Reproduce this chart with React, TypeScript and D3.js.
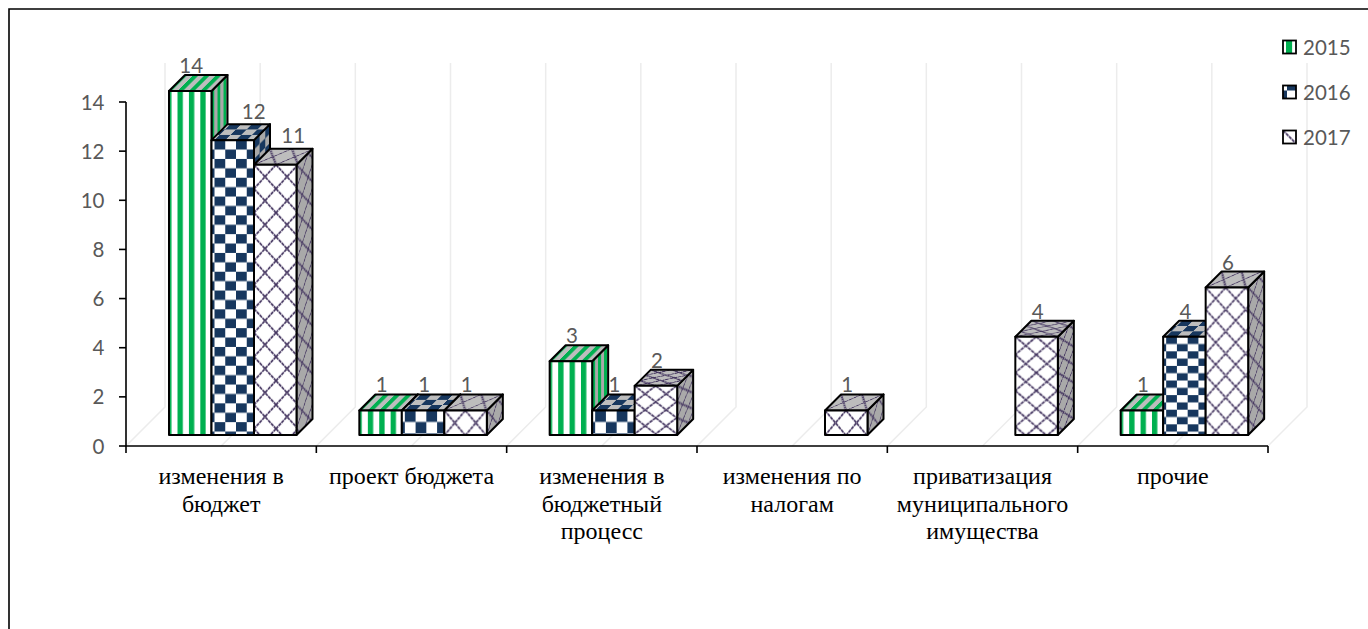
import * as d3 from "d3";

const categories = [
  ["изменения в", "бюджет"],
  ["проект бюджета"],
  ["изменения в", "бюджетный", "процесс"],
  ["изменения по", "налогам"],
  ["приватизация", "муниципального", "имущества"],
  ["прочие"],
];
const years = ["2015", "2016", "2017"];
const values2015 = [14, 1, 3, 0, 0, 1];
const values2016 = [12, 1, 1, 0, 0, 4];
const values2017 = [11, 1, 2, 1, 4, 6];
const yTicks = [0, 2, 4, 6, 8, 10, 12, 14];

const seriesValues = [values2015, values2016, values2017];

const width = 1368;
const height = 629;
const depth = 16;
const depthWall = 39;
const floorGap = 11; // front of the bars sits above the axis line

const GREEN = "#00b050";
const NAVY = "#17375e";
const LATTICE = "#43345f";
const TEXT = "#595959";
const GRID = "#ececec";

const x0 = d3
  .scaleBand()
  .domain(categories.map((_, i) => String(i)))
  .range([126, 1268]);
const x1 = d3.scaleBand().domain(years).range([43, 170.5]);
const y = d3.scaleLinear().domain([0, 14]).range([446, 102]);

// the texture gets stretched by the bar height in the original
const checkRow = { 1: 11.5, 4: 7.3, 12: 9.4 };
const latticeSize = {
  1: [21, 25, 1],
  2: [21, 16, 3],
  4: [21, 18, 3],
  6: [20, 22, 1],
  11: [22, 24, 1],
};
// legend swatch tile: size and where it starts relative to the swatch
const legendTile = [
  { size: 13, dx: 3, dy: 0 },
  { size: 18, dx: 4, dy: -4 },
  { size: 26, dx: 0, dy: 0 },
];

const Tile = ({ kind, w, h, bg, thin }) => {
  if (kind === 0) {
    return (
      <>
        <rect width={w} height={h} fill={bg} />
        <rect x={0} width={w * 0.47} height={h} fill={GREEN} />
      </>
    );
  }
  if (kind === 1) {
    return (
      <>
        <rect width={w} height={h} fill={bg} />
        <rect width={w / 2} height={h / 2} fill={NAVY} />
        <rect x={w / 2} y={h / 2} width={w / 2} height={h / 2} fill={NAVY} />
      </>
    );
  }
  return (
    <>
      <rect width={w} height={h} fill={bg} />
      <path
        d={`M0,0L${w},${h}M${w},0L0,${h}`}
        stroke={LATTICE}
        strokeWidth={thin ?? 1.7}
        strokeDasharray="3.5 0.7"
        fill="none"
      />
    </>
  );
};

const Bar = ({ s, c, value }) => {
  const bw = x1.bandwidth();
  const left = x0(String(c)) + x1(years[s]);
  const right = left + bw;
  const top = y(value) - floorGap;
  const base = y(0) - floorGap;
  const id = `b${s}-${c}`;
  const k = depth / bw;

  let w = 11.4;
  let h = 20;
  let topSpan = 20;
  let phase = 8.5;
  if (s === 1) {
    w = 21.5;
    h = checkRow[value] * 2;
    topSpan = h * 1.5;
    phase = 3;
  }
  if (s === 2) {
    const l = latticeSize[value];
    w = l[0];
    h = l[1];
    topSpan = h * l[2];
    phase = 0;
  }
  const ts = depth / topSpan;

  const facePath = {
    front: `M${left},${top}H${right}V${base}H${left}Z`,
    side: `M${right},${top}L${right + depth},${top - depth}V${base - depth}L${right},${base}Z`,
    top: `M${left},${top}L${left + depth},${top - depth}H${right + depth}L${right},${top}Z`,
  };

  // 12 and 11 in the first group are moved off their bars in the original
  const moved = c === 0 && s > 0;
  const labelX = left + bw / 2 + (moved ? (s === 1 ? 21 : 18) : 1);
  const labelY = top - depth - (moved ? 5.5 : 2);

  return (
    <g>
      <defs>
        <pattern
          id={`${id}-front`}
          patternUnits="userSpaceOnUse"
          width={w}
          height={h}
          patternTransform={`translate(${left + phase},${top})`}
        >
          <Tile kind={s} w={w} h={h} bg="#ffffff" />
        </pattern>
        <pattern
          id={`${id}-side`}
          patternUnits="userSpaceOnUse"
          width={w}
          height={h}
          patternTransform={`matrix(${k * 1.4},${-k * 1.4},0,1,${right},${top})`}
        >
          <Tile kind={s} w={w} h={h} bg="#a9a9a9" />
        </pattern>
        <pattern
          id={`${id}-top`}
          patternUnits="userSpaceOnUse"
          width={w}
          height={h}
          patternTransform={`matrix(1,0,${ts},${-ts},${left + phase},${top})`}
        >
          <Tile kind={s} w={w} h={h} bg="#bdbdbd" thin={value === 2 || value === 4 ? 2.6 : 1.5} />
        </pattern>
      </defs>
      {["side", "top", "front"].map((f) => (
        <path
          key={f}
          d={facePath[f]}
          fill={`url(#${id}-${f})`}
          stroke="#000"
          strokeWidth={2}
          strokeLinejoin="round"
        />
      ))}
      <text
        x={labelX}
        y={labelY}
        textAnchor="middle"
        fontFamily="Lato"
        fontSize={20.5}
        fill={TEXT}
      >
        {value}
      </text>
    </g>
  );
};

export default function App() {
  const halfBands = d3.range(0, categories.length * 2 + 1).map((i) => 126 + (i * x0.bandwidth()) / 2);
  const legendY = d3.scalePoint().domain(years).range([47, 137]);

  return (
    <svg
      width={width}
      height={height}
      viewBox={`0 0 ${width} ${height}`}
      style={{ position: "absolute", left: 0, top: 0, display: "block", background: "#fff" }}
    >
      <path d={`M9,${height}V9H${width}`} fill="none" stroke="#000" strokeWidth={1.6} />

      {/* walls of the 3d box */}
      {halfBands.map((x) => (
        <path
          key={x}
          d={`M${x},${y(0)}L${x + depthWall},${y(0) - depthWall}V${y(14) - depthWall}`}
          fill="none"
          stroke={GRID}
          strokeWidth={1.5}
        />
      ))}

      {/* axes */}
      <path d={`M126,${y(14)}V${y(0)}H1268`} fill="none" stroke="#000" strokeWidth={1.6} />
      {yTicks.map((t) => (
        <g key={t}>
          <line x1={119} x2={126} y1={y(t)} y2={y(t)} stroke="#000" strokeWidth={1.6} />
          <text
            x={104.5}
            y={y(t) + 7.5}
            textAnchor="end"
            fontFamily="Lato"
            fontSize={20.5}
            fill={TEXT}
          >
            {t}
          </text>
        </g>
      ))}
      {categories.map((lines, i) => {
        const left = x0(String(i));
        return (
          <g key={i}>
            <line x1={left} x2={left} y1={y(0)} y2={y(0) + 7} stroke="#000" strokeWidth={1.6} />
            {i === categories.length - 1 && (
              <line
                x1={left + x0.bandwidth()}
                x2={left + x0.bandwidth()}
                y1={y(0)}
                y2={y(0) + 7}
                stroke="#000"
                strokeWidth={1.6}
              />
            )}
            {lines.map((line, j) => (
              <text
                key={j}
                x={left + x0.bandwidth() / 2}
                y={484 + j * 27.5}
                textAnchor="middle"
                fontFamily="Liberation Serif"
                fontSize={24}
                fill="#000"
              >
                {line}
              </text>
            ))}
          </g>
        );
      })}

      {/* bars, left to right so the next front hides the previous side */}
      {categories.map((_, c) =>
        years.map((_, s) =>
          seriesValues[s][c] > 0 ? <Bar key={`${s}-${c}`} s={s} c={c} value={seriesValues[s][c]} /> : null
        )
      )}

      {/* legend */}
      {years.map((yr, s) => (
        <g key={yr}>
          <defs>
            <pattern
              id={`leg-${s}`}
              patternUnits="userSpaceOnUse"
              width={legendTile[s].size}
              height={legendTile[s].size}
              patternTransform={`translate(${1283 + legendTile[s].dx},${legendY(yr) - 6.5 + legendTile[s].dy})`}
            >
              <Tile kind={s} w={legendTile[s].size} h={legendTile[s].size} bg="#fff" />
            </pattern>
          </defs>
          <rect
            x={1283}
            y={legendY(yr) - 6.5}
            width={13}
            height={13}
            fill={`url(#leg-${s})`}
            stroke="#000"
            strokeWidth={1.8}
          />
          <text x={1303} y={legendY(yr) + 7.5} fontFamily="Lato" fontSize={20.5} fill={TEXT}>
            {yr}
          </text>
        </g>
      ))}
    </svg>
  );
}
